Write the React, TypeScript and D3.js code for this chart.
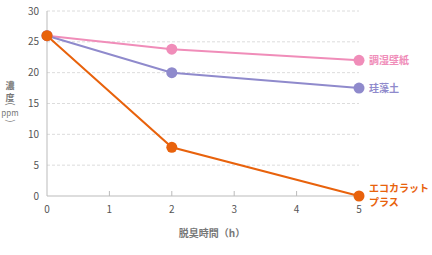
import React from "react";
import * as d3 from "d3";

const hours = [0, 2, 5];
const wallpaper = [26, 23.8, 22];
const diatom = [26, 20, 17.5];
const ecocarat = [26, 7.9, 0];
const seriesNames = ["調湿壁紙", "珪藻土", "エコカラット|プラス"];
const seriesColors = ["#f08db9", "#8f8acc", "#e8620c"];
const xTicks = [0, 1, 2, 3, 4, 5];
const yTicks = [0, 5, 10, 15, 20, 25, 30];

const W = 432, H = 255;
const x = d3.scaleLinear().domain([0, 5]).range([47, 359]);
const y = d3.scaleLinear().domain([0, 30]).range([196, 11]);
const font = "'Noto Sans CJK JP', 'Noto Sans', sans-serif";

export default function App() {
  const series = [wallpaper, diatom, ecocarat];
  const line = d3.line<number>().x((_, i) => x(hours[i])).y((d) => y(d));
  const order = [0, 1, 2];
  return (
    <svg width={W} height={H} style={{ position: "absolute", left: 0, top: 0 }} fontFamily={font}>
      {yTicks.filter((t) => t > 0).map((t) => (
        <line key={t} x1={x(0)} x2={x(5)} y1={y(t)} y2={y(t)} stroke="#dcdcdc" strokeDasharray="3,2" strokeWidth={1} />
      ))}
      <line x1={x(0)} x2={x(0)} y1={y(30)} y2={y(0)} stroke="#bbbbbb" />
      <line x1={x(0)} x2={x(5)} y1={y(0)} y2={y(0)} stroke="#bbbbbb" />
      {xTicks.slice(1).map((t) => (
        <line key={t} x1={x(t)} x2={x(t)} y1={y(0)} y2={y(0) - 5} stroke="#bbbbbb" />
      ))}
      {yTicks.map((t) => (
        <text key={t} x={39} y={y(t)} dy="0.35em" textAnchor="end" fontSize={10} fill="#555">{t}</text>
      ))}
      {xTicks.map((t) => (
        <text key={t} x={x(t)} y={209} dy="0.35em" textAnchor="middle" fontSize={10} fill="#555">{t}</text>
      ))}
      <text x={212} y={237} textAnchor="middle" fontSize={10} fontWeight="bold" fill="#777">脱臭時間（h）</text>
      <g fill="#777" fontSize={9} fontWeight="bold" textAnchor="middle">
        <text x={10} y={85} dominantBaseline="central">濃</text>
        <text x={10} y={97} dominantBaseline="central">度</text>
        <text transform="translate(10,104) rotate(90)" dy="0.35em" fontSize={10} fontWeight="normal">(</text>
        <text x={10} y={112.5} dominantBaseline="central" fontSize={8} fontWeight="normal">ppm</text>
        <text transform="translate(10,121) rotate(90)" dy="0.35em" fontSize={10} fontWeight="normal">)</text>
      </g>
      {order.map((si) => (
        <g key={si}>
          <path d={line(series[si]) || ""} fill="none" stroke={seriesColors[si]} strokeWidth={2} />
          {series[si].map((v, i) => (
            <circle key={i} cx={x(hours[i])} cy={y(v)} r={5.5} fill={seriesColors[si]} />
          ))}
          {seriesNames[si].split("|").map((s, k) => (
            <text key={k} x={369} y={y(series[si][2]) + k * 14 - (si === 2 ? 8 : 0)} dy="0.35em" fontSize={10} fontWeight="bold" fill={seriesColors[si]}>{s}</text>
          ))}
        </g>
      ))}
    </svg>
  );
}
